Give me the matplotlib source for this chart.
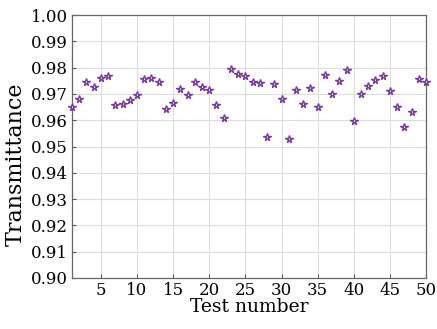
import matplotlib
matplotlib.use("Agg")
import matplotlib.pyplot as plt
import numpy as np

# Test index and measured transmittance
test_number = np.arange(1, 51)
transmittance = [
    0.9649, 0.9682, 0.9745, 0.9728, 0.9762, 0.9769, 0.9659, 0.9660, 0.9677, 0.9695,
    0.9755, 0.9762, 0.9744, 0.9644, 0.9664, 0.9717, 0.9695, 0.9744, 0.9726, 0.9716,
    0.9657, 0.9608, 0.9796, 0.9776, 0.9769, 0.9744, 0.9740, 0.9537, 0.9736, 0.9682,
    0.9529, 0.9715, 0.9663, 0.9724, 0.9650, 0.9772, 0.9701, 0.9749, 0.9792, 0.9596,
    0.9700, 0.9730, 0.9753, 0.9767, 0.9712, 0.9650, 0.9573, 0.9632, 0.9755, 0.9744,
]
x_ticks = [5, 10, 15, 20, 25, 30, 35, 40, 45, 50]
y_ticks = np.round(np.arange(0.90, 1.001, 0.01), 2)

plt.rcParams['font.family'] = ['DejaVu Serif']

fig = plt.figure(figsize=(4.37, 3.29), dpi=100)
ax = fig.add_axes([72 / 437, 1 - 278 / 329, 354 / 437, 263 / 329])

ax.plot(test_number, transmittance, linestyle='none', marker='*', markersize=5.5,
        markerfacecolor='#fbf4fb', markeredgecolor='#7a3aa0', markeredgewidth=1.0,
        clip_on=False, zorder=3)

ax.set_xlim(1, 50)
ax.set_ylim(0.90, 1.00)
ax.set_xticks(x_ticks)
ax.set_yticks(y_ticks)
ax.set_yticklabels([f"{v:.2f}" for v in y_ticks])
ax.tick_params(direction='in', length=3, labelsize=12, color='#555555', pad=3)
ax.grid(True, color='#dddddd', linewidth=0.8)
ax.set_axisbelow(True)
for s in ax.spines.values():
    s.set_color('#666666')
    s.set_linewidth(0.9)

ax.set_xlabel('Test number', fontsize=13.5, labelpad=-1)
ax.set_ylabel('Transmittance', fontsize=16)
ax.yaxis.set_label_coords(-0.128, 0.433)

fig.savefig('out.png', dpi=100)
